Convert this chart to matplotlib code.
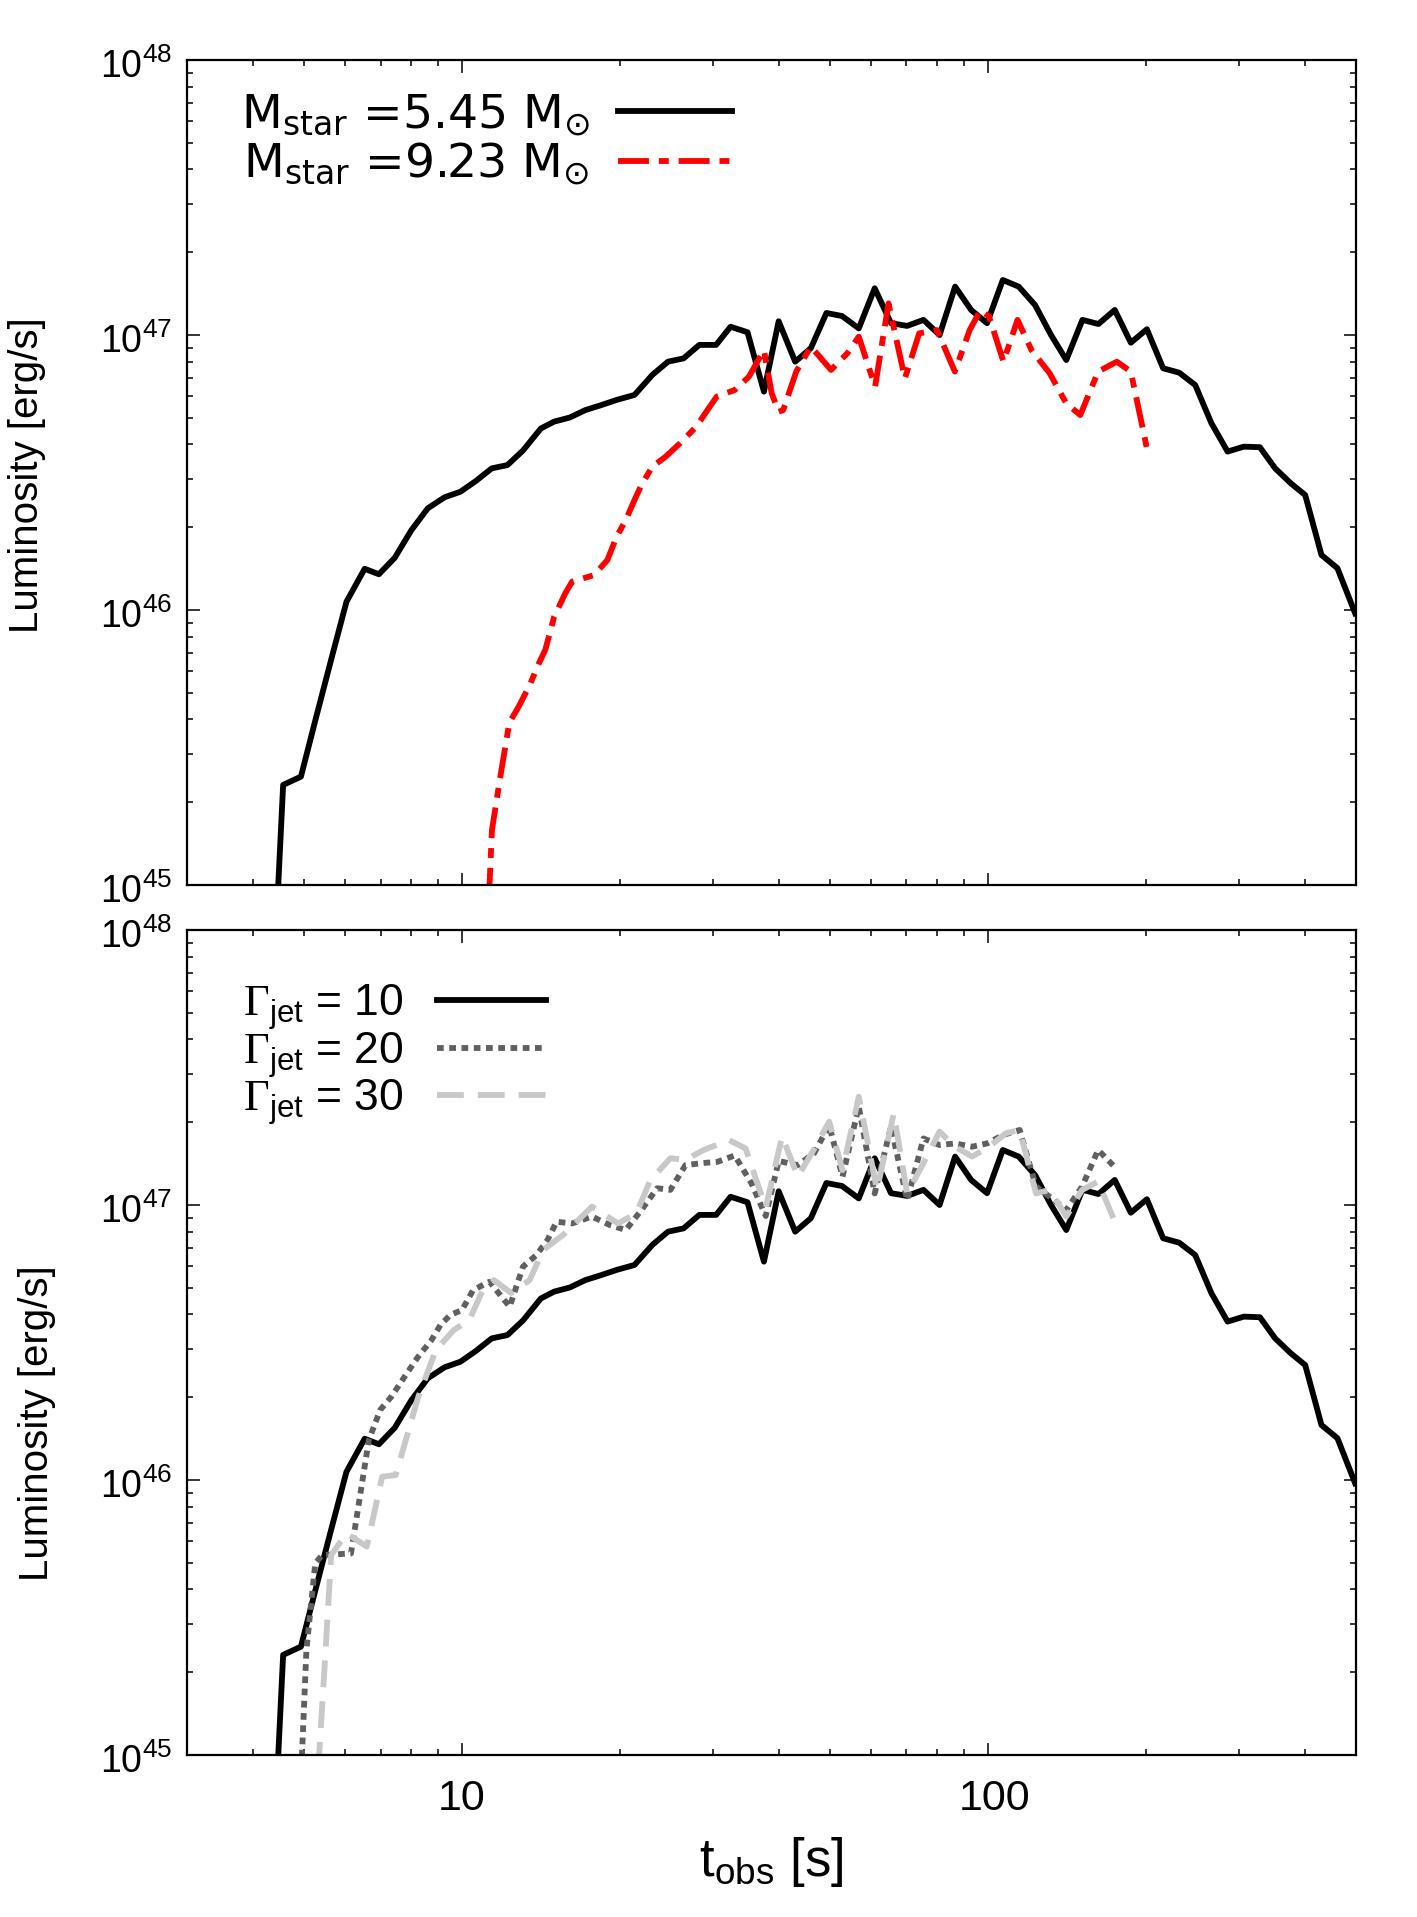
import numpy as np
import matplotlib
matplotlib.use("Agg")
import matplotlib.pyplot as plt
from matplotlib.ticker import FixedLocator, FuncFormatter, NullFormatter, LogLocator
from matplotlib.font_manager import FontProperties
from matplotlib.transforms import ScaledTranslation

plt.rcParams['font.family'] = ['Liberation Sans', 'DejaVu Sans']
plt.rcParams['mathtext.fontset'] = 'custom'
plt.rcParams['mathtext.rm'] = 'Liberation Sans'
plt.rcParams['mathtext.it'] = 'Liberation Sans:italic'
plt.rcParams['mathtext.bf'] = 'Liberation Sans:bold'
plt.rcParams['mathtext.sf'] = 'Liberation Sans'
plt.rcParams['mathtext.cal'] = 'Liberation Serif'

# ---------------- data (t_obs [s], log10 L [erg/s]) ----------------
t_m545 = [4.46, 4.57, 4.94, 5.28, 5.64, 6.03, 6.53, 6.95, 7.45, 8.01, 8.61, 9.27, 9.93,
          10.64, 11.39, 12.2, 13.06, 14.12, 14.97, 16.03, 17.16, 18.39, 19.68, 21.28,
          23.01, 24.64, 26.38, 28.26, 30.42, 32.4, 34.9, 37.5, 40.0, 43.0, 46.05, 49.3,
          52.8, 56.8, 60.9, 65.4, 70.2, 75.4, 80.9, 86.6, 92.9, 99.6, 106.7, 114.4,
          122.9, 131.8, 140.9, 151.2, 162.2, 174.2, 186.9, 200.5, 215.3, 231.0, 247.8,
          266.0, 285.5, 306.4, 328.8, 351.6, 376.4, 401.0, 430.6, 461.8, 499.0]
logL_m545 = [44.95, 45.364, 45.394, 45.61, 45.82, 46.03, 46.15, 46.13, 46.19, 46.29, 46.37,
             46.41, 46.43, 46.47, 46.515, 46.527, 46.58, 46.66, 46.685, 46.70, 46.727,
             46.745, 46.764, 46.782, 46.855, 46.903, 46.915, 46.964, 46.964, 47.03, 47.01,
             46.794, 47.05, 46.903, 46.952, 47.08, 47.069, 47.024, 47.17, 47.043, 47.033,
             47.055, 47.0, 47.176, 47.091, 47.043, 47.2, 47.176, 47.109, 47.0, 46.909,
             47.055, 47.04, 47.091, 46.972, 47.021, 46.879, 46.863, 46.818, 46.679, 46.576,
             46.594, 46.592, 46.515, 46.461, 46.418, 46.2, 46.152, 45.988]

t_m923 = [11.25, 11.4, 11.84, 12.3, 12.81, 13.45, 14.0, 14.4, 14.97, 15.72, 16.19, 17.83,
          18.9, 19.68, 20.48, 21.28, 21.94, 23.0, 24.4, 25.96, 27.9, 29.0, 30.5, 33.0,
          35.1, 37.5, 38.8, 40.0, 40.8, 43.2, 46.05, 50.3, 54.0, 56.8, 61.0, 64.7, 69.5,
          74.0, 80.0, 86.5, 92.3, 96.8, 100.5, 107.0, 113.8, 121.0, 131.0, 140.9, 149.8,
          162.0, 175.8, 186.9, 200.5]
logL_m923 = [44.95, 45.2, 45.4, 45.59, 45.648, 45.727, 45.806, 45.855, 45.976, 46.061,
             46.103, 46.127, 46.182, 46.267, 46.327, 46.4, 46.455, 46.521, 46.558, 46.606,
             46.667, 46.715, 46.776, 46.8, 46.848, 46.945, 46.788, 46.721, 46.727, 46.867,
             46.958, 46.873, 46.933, 46.994, 46.812, 47.115, 46.842, 47.006, 47.018,
             46.867, 47.018, 47.091, 47.067, 46.903, 47.055, 46.945, 46.861, 46.751,
             46.709, 46.867, 46.903, 46.867, 46.588]

t_g20 = [4.95, 5.06, 5.26, 5.42, 5.8, 6.15, 6.65, 6.99, 7.34, 7.78, 8.25, 8.75, 9.1, 9.5,
         10.0, 10.5, 11.28, 12.32, 13.06, 13.85, 14.54, 15.13, 16.19, 17.67, 19.1, 20.48,
         21.94, 23.5, 24.9, 26.6, 28.5, 30.6, 33.0, 35.5, 37.8, 40.0, 43.5, 46.7, 49.9,
         52.9, 56.8, 60.9, 65.4, 70.2, 75.4, 80.9, 86.6, 93.3, 99.6, 107.0, 114.9, 123.4,
         131.0, 140.9, 151.0, 162.0, 174.0]
logL_g20 = [44.95, 45.382, 45.697, 45.727, 45.73, 45.733, 46.145, 46.255, 46.303, 46.376,
            46.448, 46.509, 46.564, 46.6, 46.618, 46.691, 46.721, 46.63, 46.776, 46.818,
            46.873, 46.939, 46.933, 46.958, 46.927, 46.909, 46.982, 47.061, 47.055, 47.145,
            47.152, 47.157, 47.18, 47.079, 46.96, 47.16, 47.145, 47.188, 47.29, 47.103,
            47.358, 47.042, 47.285, 47.018, 47.242, 47.218, 47.224, 47.212, 47.224, 47.255,
            47.273, 47.067, 47.03, 46.982, 47.067, 47.2, 47.139]

t_g30 = [5.33, 5.47, 5.64, 6.03, 6.59, 7.05, 7.48, 8.25, 8.92, 9.64, 10.33, 10.95, 11.5,
         12.4, 13.45, 14.25, 15.56, 17.67, 19.8, 21.46, 22.8, 24.9, 26.6, 28.8, 32.2, 34.6,
         37.8, 40.6, 43.5, 46.6, 49.9, 52.9, 56.8, 61.5, 66.2, 70.2, 75.4, 80.9, 86.6, 93.3,
         100.5, 108.2, 114.9, 123.4, 131.0, 140.9, 151.0, 162.0, 175.8]
logL_g30 = [44.95, 45.297, 45.727, 45.806, 45.758, 46.012, 46.018, 46.3, 46.473, 46.545,
            46.582, 46.691, 46.727, 46.68, 46.727, 46.836, 46.891, 46.994, 46.933, 46.97,
            47.09, 47.17, 47.164, 47.2, 47.236, 47.206, 46.99, 47.25, 47.103, 47.2, 47.303,
            47.127, 47.394, 47.055, 47.333, 47.042, 47.152, 47.267, 47.212, 47.176, 47.212,
            47.261, 47.273, 47.042, 47.055, 46.958, 47.055, 47.085, 46.921]

y_ticks = [1e45, 1e46, 1e47, 1e48]
x_ticks = [10, 100]
x_tick_labels = ['10', '100']

top_labels = [r'M$_{\mathrm{star}}$ =5.45 M$_{\odot}$', r'M$_{\mathrm{star}}$ =9.23 M$_{\odot}$']
bottom_labels = [r'$\mathcal{\Gamma}_{\mathrm{jet}}$ = 10', r'$\mathcal{\Gamma}_{\mathrm{jet}}$ = 20',
                 r'$\mathcal{\Gamma}_{\mathrm{jet}}$ = 30']

# ---------------- figure ----------------
W, H = 1417, 1917
fig = plt.figure(figsize=(W / 100, H / 100), dpi=100)
left, width, height = 187 / W, (1355.6 - 187) / W, 825 / H
ax1 = fig.add_axes([left, 1 - 885 / H, width, height])
ax2 = fig.add_axes([left, 1 - 1755 / H, width, height])

LW = 4.2
ax1.plot(t_m545, 10 ** np.array(logL_m545), color='black', lw=LW, label=top_labels[0])
ax1.plot(t_m923, 10 ** np.array(logL_m923), color='#ff0000', lw=LW,
         linestyle=(0, (5.3, 1.7, 1.7, 1.7)), label=top_labels[1])

ax2.plot(t_m545, 10 ** np.array(logL_m545), color='black', lw=LW, label=bottom_labels[0])
ax2.plot(t_g20, 10 ** np.array(logL_g20), color='#606060', lw=LW,
         linestyle=(0, (1.15, 0.95)), label=bottom_labels[1])
ax2.plot(t_g30, 10 ** np.array(logL_g30), color='#c8c8c8', lw=LW,
         linestyle=(0, (4.6, 2.4)), label=bottom_labels[2])

ytick_fmt = FuncFormatter(lambda v, p: r'$\mathregular{10^{%d}}$' % int(round(np.log10(v))))
for ax in (ax1, ax2):
    ax.set_xscale('log')
    ax.set_yscale('log')
    ax.set_xlim(3, 500)
    ax.set_ylim(1e45, 1e48)
    ax.yaxis.set_major_locator(FixedLocator(y_ticks))
    ax.yaxis.set_minor_locator(LogLocator(base=10, subs=np.arange(2, 10)))
    ax.yaxis.set_major_formatter(ytick_fmt)
    ax.yaxis.set_minor_formatter(NullFormatter())
    ax.xaxis.set_major_locator(FixedLocator(x_ticks))
    ax.xaxis.set_minor_locator(LogLocator(base=10, subs=np.arange(2, 10)))
    ax.xaxis.set_minor_formatter(NullFormatter())
    ax.tick_params(which='both', direction='in', top=True, right=True, width=1.1)
    ax.tick_params(which='major', length=9)
    ax.tick_params(which='minor', length=4.3)
    ax.tick_params(axis='y', which='major', labelsize=27, pad=11)
    ax.tick_params(axis='x', which='major', labelsize=31, pad=17)
    for s in ax.spines.values():
        s.set_linewidth(1.6)

ax1.tick_params(labelbottom=False)
ax2.set_xticklabels(x_tick_labels)

# small vertical nudge of the y tick labels (gnuplot places them slightly low)
shift = ScaledTranslation(0, -5 / 72, fig.dpi_scale_trans)
for ax in (ax1, ax2):
    for tick in ax.yaxis.get_major_ticks():
        tick.label1.set_verticalalignment('center')
        tick.label1.set_transform(tick.label1.get_transform() + shift)
xshift = ScaledTranslation(5 / 72, 0, fig.dpi_scale_trans)
for tick in ax2.xaxis.get_major_ticks()[1:]:
    tick.label1.set_transform(tick.label1.get_transform() + xshift)

# legends (sample line on the right of the text)
leg1 = ax1.legend(loc='upper left', bbox_to_anchor=(0.046, 0.961), frameon=False,
                  markerfirst=False, handlelength=2.4, handletextpad=0.6,
                  labelspacing=0.06, borderpad=0, borderaxespad=0,
                  prop=FontProperties(family='DejaVu Sans', size=34,
                                      math_fontfamily='dejavusans'))
leg2 = ax2.legend(loc='upper left', bbox_to_anchor=(0.048, 0.937), frameon=False,
                  markerfirst=False, handlelength=2.45, handletextpad=0.75,
                  labelspacing=-0.05, borderpad=0, borderaxespad=0,
                  prop=FontProperties(family='Liberation Sans', size=32,
                                      math_fontfamily='custom'))

fig.text(27 / W, 1 - 475 / H, 'Luminosity [erg/s]', rotation=90, ha='center', va='center',
         fontsize=29)
fig.text(37 / W, 1 - 1423 / H, 'Luminosity [erg/s]', rotation=90, ha='center', va='center',
         fontsize=29)
fig.text(771 / W, 1 - 1862 / H, r't$_{\mathrm{obs}}$ [s]', ha='center', va='center',
         fontsize=38)

fig.savefig('out.png', dpi=100)
